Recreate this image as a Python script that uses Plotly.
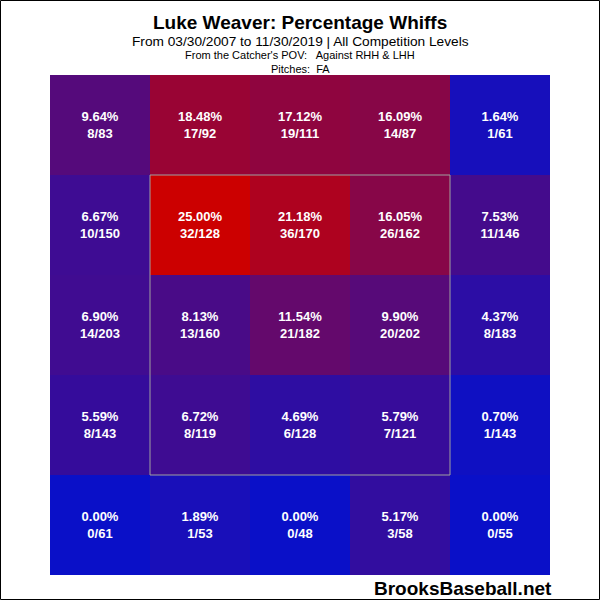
"""Luke Weaver whiff percentage zone chart."""

import plotly.graph_objects as go

# zone rows, top to bottom (catcher's POV)
pct = [
    [9.64, 18.48, 17.12, 16.09, 1.64],
    [6.67, 25.00, 21.18, 16.05, 7.53],
    [6.90, 8.13, 11.54, 9.90, 4.37],
    [5.59, 6.72, 4.69, 5.79, 0.70],
    [0.00, 1.89, 0.00, 5.17, 0.00],
]
whiffs = [
    [8, 17, 19, 14, 1],
    [10, 32, 36, 26, 11],
    [14, 13, 21, 20, 8],
    [8, 8, 6, 7, 1],
    [0, 1, 0, 3, 0],
]
pitches = [
    [83, 92, 111, 87, 61],
    [150, 128, 170, 162, 146],
    [203, 160, 182, 202, 183],
    [143, 119, 128, 121, 143],
    [61, 53, 48, 58, 55],
]
cols = [0, 1, 2, 3, 4]
rows = [0, 1, 2, 3, 4]

labels = [
    [f"<b>{p:.2f}%</b><br><b>{w}/{n}</b>" for p, w, n in zip(pr, wr, nr)]
    for pr, wr, nr in zip(pct, whiffs, pitches)
]

fig = go.Figure(go.Heatmap(
    x=cols,
    y=rows,
    z=pct,
    text=labels,
    texttemplate="%{text}",
    textfont=dict(family="Liberation Sans, Arial", size=13, color="white"),
    colorscale=[[0, "#0A10C8"], [1, "#CC0000"]],
    zmin=0,
    zmax=25,
    showscale=False,
    hoverinfo="skip",
))

# strike zone
fig.add_shape(type="rect", x0=0.5, x1=3.5, y0=0.5, y1=3.5,
              line=dict(color="#A0A0A0", width=1))

# outer border of the image
fig.add_shape(type="rect", xref="paper", yref="paper",
              x0=-0.099, x1=1.099, y0=-0.049, y1=1.149,
              line=dict(color="black", width=1))

font = "Liberation Sans, Arial"
fig.add_annotation(text="<b>Luke Weaver: Percentage Whiffs</b>", xref="paper", yref="paper",
                   x=0.5, y=1.104, showarrow=False, yanchor="middle",
                   font=dict(family=font, size=19, color="black"))
fig.add_annotation(text="From 03/30/2007 to 11/30/2019 | All Competition Levels",
                   xref="paper", yref="paper", x=0.5, y=1.067, showarrow=False,
                   yanchor="middle", font=dict(family=font, size=13.7, color="black"))
fig.add_annotation(text="From the Catcher's POV:\u00a0\u00a0 Against RHH & LHH",
                   xref="paper", yref="paper", x=0.5, y=1.04, showarrow=False,
                   yanchor="middle", font=dict(family=font, size=11, color="black"))
fig.add_annotation(text="Pitches:\u00a0 FA", xref="paper", yref="paper",
                   x=0.5, y=1.012, showarrow=False, yanchor="middle",
                   font=dict(family=font, size=11, color="black"))
fig.add_annotation(text="<b>BrooksBaseball.net</b>", xref="paper", yref="paper",
                   x=1.008, y=-0.026, showarrow=False, xanchor="right", yanchor="middle",
                   font=dict(family=font, size=19, color="black"))

fig.update_layout(
    width=600,
    height=600,
    margin=dict(l=50, r=50, t=75, b=25),
    paper_bgcolor="white",
    plot_bgcolor="white",
    xaxis=dict(range=[-0.5, 4.5], visible=False, fixedrange=True),
    yaxis=dict(range=[4.5, -0.5], visible=False, fixedrange=True),
)

# page body has a default 8px margin; drop it so the figure fills the window
fig.write_html("out.html", config={"displayModeBar": False},
               post_script="document.body.style.margin='0';")
